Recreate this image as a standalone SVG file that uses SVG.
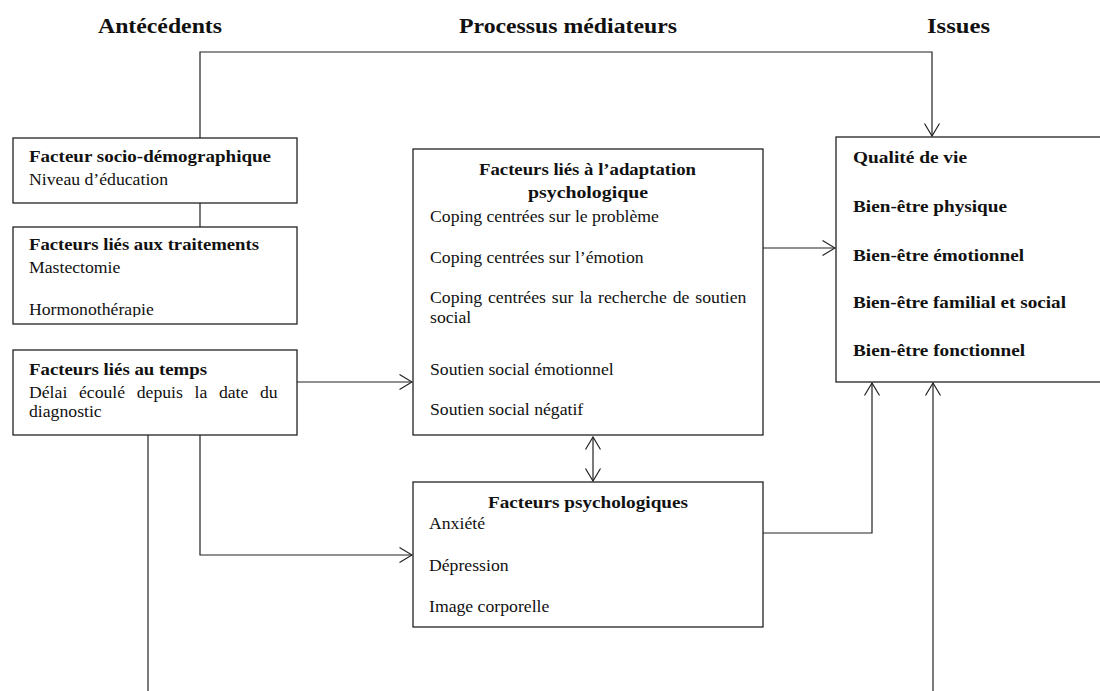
<svg xmlns="http://www.w3.org/2000/svg" width="1100" height="691" viewBox="0 0 1100 691">
<style>
.box{fill:#fff;stroke:#222;stroke-width:1.3}
.con{fill:none;stroke:#222;stroke-width:1.2}
text{font-family:"Liberation Serif","Times New Roman",serif;fill:#111}
.t{font-size:17.7px}
.b{font-size:17px;font-weight:bold}
.h{font-size:20px;font-weight:bold}
</style>
<defs>
<marker id="arr" viewBox="0 0 14 16" markerWidth="14" markerHeight="16" refX="13" refY="8" orient="auto-start-reverse" markerUnits="userSpaceOnUse">
<path d="M0.5,0.5 L13,8 L0.5,15.5" fill="none" stroke="#222" stroke-width="1.2"/>
</marker>
<clipPath id="clip2"><rect x="13" y="227" width="284" height="90"/></clipPath>
</defs>
<g id="headers">
<text class="h" x="98" y="33" textLength="124" lengthAdjust="spacingAndGlyphs">Antécédents</text>
<text class="h" x="459" y="33" textLength="218" lengthAdjust="spacingAndGlyphs">Processus médiateurs</text>
<text class="h" x="927" y="33" textLength="63" lengthAdjust="spacingAndGlyphs">Issues</text>
</g>
<g id="connectors">
<path class="con" d="M200,138 V52 H932 V136" marker-end="url(#arr)"/>
<path class="con" d="M200,203 V227"/>
<path class="con" d="M297,382 H412" marker-end="url(#arr)"/>
<path class="con" d="M763,248 H835" marker-end="url(#arr)"/>
<path class="con" d="M593,437 V481" marker-start="url(#arr)" marker-end="url(#arr)"/>
<path class="con" d="M200,435 V555 H412" marker-end="url(#arr)"/>
<path class="con" d="M148,435 V692"/>
<path class="con" d="M763,533 H872 V383" marker-end="url(#arr)"/>
<path class="con" d="M933,692 V383" marker-end="url(#arr)"/>
</g>
<g id="socio">
<rect class="box" x="13" y="138" width="284" height="65"/>
<text class="b" x="29" y="162" textLength="242" lengthAdjust="spacingAndGlyphs">Facteur socio-démographique</text>
<text class="t" x="29" y="185">Niveau d’éducation</text>
</g>
<g id="traitements">
<rect class="box" x="13" y="227" width="284" height="97"/>
<text class="b" x="29" y="250" textLength="230" lengthAdjust="spacingAndGlyphs">Facteurs liés aux traitements</text>
<text class="t" x="29" y="273">Mastectomie</text>
<text class="t" x="29" y="315" clip-path="url(#clip2)">Hormonothérapie</text>
</g>
<g id="temps">
<rect class="box" x="13" y="350" width="284" height="85"/>
<text class="b" x="29" y="375" textLength="178" lengthAdjust="spacingAndGlyphs">Facteurs liés au temps</text>
<text class="t" x="29" y="398" word-spacing="7.2">Délai écoulé depuis la date du</text>
<text class="t" x="29" y="417">diagnostic</text>
</g>
<g id="adaptation">
<rect class="box" x="413" y="149" width="350" height="286"/>
<text class="b" x="479" y="175" textLength="217" lengthAdjust="spacingAndGlyphs">Facteurs liés à l’adaptation</text>
<text class="b" x="528" y="198" textLength="120" lengthAdjust="spacingAndGlyphs">psychologique</text>
<text class="t" x="430" y="222">Coping centrées sur le problème</text>
<text class="t" x="430" y="263">Coping centrées sur l’émotion</text>
<text class="t" x="430" y="303" word-spacing="1.5">Coping centrées sur la recherche de soutien</text>
<text class="t" x="430" y="323">social</text>
<text class="t" x="430" y="375">Soutien social émotionnel</text>
<text class="t" x="430" y="415">Soutien social négatif</text>
</g>
<g id="psychologiques">
<rect class="box" x="413" y="482" width="350" height="145"/>
<text class="b" x="488" y="508" textLength="200" lengthAdjust="spacingAndGlyphs">Facteurs psychologiques</text>
<text class="t" x="429" y="529">Anxiété</text>
<text class="t" x="429" y="571">Dépression</text>
<text class="t" x="429" y="612">Image corporelle</text>
</g>
<g id="issues">
<rect class="box" x="836" y="137" width="280" height="245"/>
<text class="b" x="853" y="163" textLength="114" lengthAdjust="spacingAndGlyphs">Qualité de vie</text>
<text class="b" x="853" y="212" textLength="154" lengthAdjust="spacingAndGlyphs">Bien-être physique</text>
<text class="b" x="853" y="261" textLength="171" lengthAdjust="spacingAndGlyphs">Bien-être émotionnel</text>
<text class="b" x="853" y="308" textLength="213" lengthAdjust="spacingAndGlyphs">Bien-être familial et social</text>
<text class="b" x="853" y="356" textLength="172" lengthAdjust="spacingAndGlyphs">Bien-être fonctionnel</text>
</g>
</svg>
